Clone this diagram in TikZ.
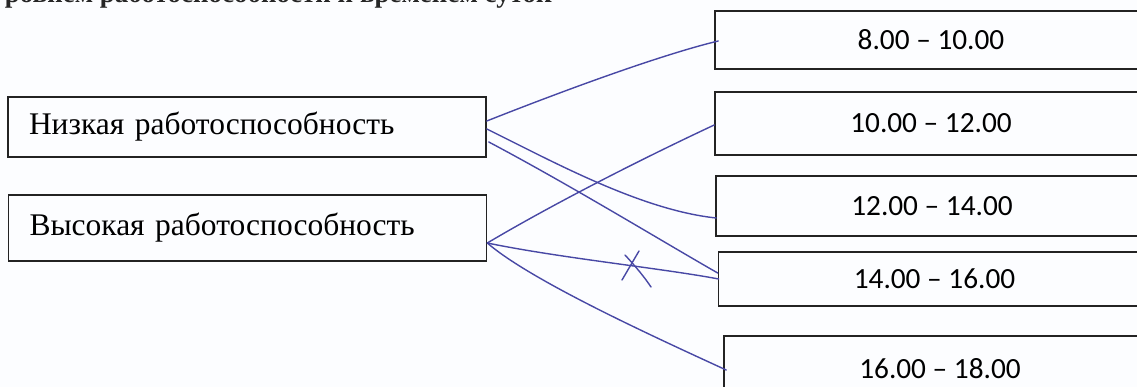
\documentclass[tikz,border=0pt]{standalone}
\usepackage{fontspec}
\setmainfont{Liberation Serif}
\newfontfamily\calibrifont{Carlito}
\definecolor{ink}{RGB}{72,72,165}
\definecolor{boxline}{RGB}{35,35,35}
\definecolor{paper}{RGB}{252,253,255}
\begin{document}
\begin{tikzpicture}[x=1pt,y=-1pt,
  leftbox/.style={draw=boxline, line width=1.6pt, minimum height=#1, text width=436pt,
    inner xsep=21pt, inner ysep=0pt, align=left, font=\fontsize{31.5}{34}\selectfont},
  rightbox/.style={draw=boxline, line width=1.6pt, minimum width=432pt, minimum height=#1,
    inner sep=0pt, font=\calibrifont\fontsize{29.3}{32}\selectfont},
  inkline/.style={draw=ink, line width=1.4pt, line cap=round, line join=round}]
\useasboundingbox (0,0) rectangle (1137,387);
\clip (0,0) rectangle (1137,387);
\fill[paper] (0,0) rectangle (1137,387);

% cut-off title
\node[anchor=base east, inner sep=0pt, text=black!85, font=\bfseries\fontsize{27}{30}\selectfont] (title) at (552,3)
  {между уровнем работоспособности и временем суток};

% left boxes
\node[leftbox=60pt] (low)  at (247,127) {Низкая работоспособность};
\node[leftbox=66pt] (high) at (247.5,228) {Высокая работоспособность};

% right boxes
\node[rightbox=58pt] (a) at (931,40)  {8.00 – 10.00};
\node[rightbox=63pt] (b) at (931,123.5) {10.00 – 12.00};
\node[rightbox=60pt] (c) at (932,206) {12.00 – 14.00};
\node[rightbox=54pt] (d) at (934.5,279) {14.00 – 16.00};
\node[rightbox=66pt] (e) at (940,369) {16.00 – 18.00};

% hand-drawn connectors
\draw[inkline] ([yshift=6pt]low.east) .. controls (560,92) and (660,55) .. ([xshift=4pt,yshift=-1pt]a.west);
\draw[inkline] ([yshift=-2pt]low.east) .. controls (550,160) and (640,210) .. ([xshift=1pt,yshift=-12pt]c.west);
\draw[inkline] ([xshift=2pt,yshift=-15pt]low.east) .. controls (570,185) and (660,240) .. ([yshift=6pt]d.west);
\draw[inkline] ([yshift=-15pt]high.east) .. controls (560,200) and (650,155) .. ([yshift=-1.5pt]b.west);
\draw[inkline] ([yshift=-15pt]high.east) .. controls (560,258) and (660,268) .. ([xshift=1pt]d.west);
\draw[inkline] ([yshift=-15pt]high.east) .. controls (530,280) and (650,335) .. ([xshift=3pt,yshift=-1pt]e.west);

% cross mark
\draw[inkline] (622,280) -- (639,251);
\draw[inkline] (625,255) .. controls (637,268) and (645,278) .. (651,287);
\end{tikzpicture}
\end{document}
